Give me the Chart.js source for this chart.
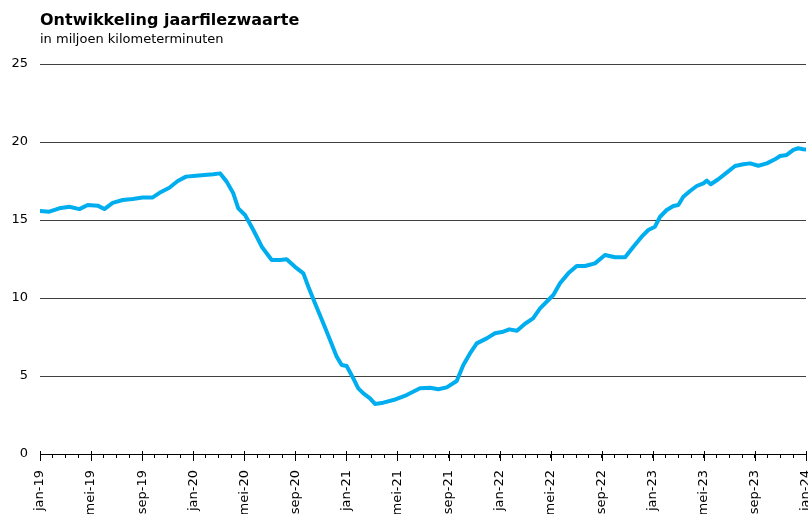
<!DOCTYPE html>
<html>
<head>
<meta charset="utf-8">
<script src="https://cdn.jsdelivr.net/npm/chart.js@4"></script>
<style>
  html, body { margin: 0; padding: 0; background: #fff; }
  #wrap { position: relative; width: 808px; height: 514px; font-family: "DejaVu Sans", Verdana, sans-serif; }
  #title { position: absolute; left: 40px; top: 10px; font-size: 16px; font-weight: bold; color: #000; }
  #subtitle { position: absolute; left: 40px; top: 31px; font-size: 13px; color: #000; }
  canvas { position: absolute; left: 0; top: 0; }
</style>
</head>
<body>
<div id="wrap">
  <canvas id="c" width="808" height="514"></canvas>
  <div id="title">Ontwikkeling jaarfilezwaarte</div>
  <div id="subtitle">in miljoen kilometerminuten</div>
</div>
<script>
// months since jan-19 (fractional)
const monthPos = [
  0, 0.73, 1.51, 2.30, 3.08, 3.74, 4.52, 5.04, 5.69, 6.48, 7.26, 8.04, 8.83, 9.48,
  10.13, 10.79, 11.44, 12.22, 12.87, 13.58, 14.10, 14.62, 15.14, 15.53, 16.06, 16.71,
  17.37, 18.15, 18.80, 19.32, 19.97, 20.63, 21.02, 21.54, 22.19, 22.72, 23.24, 23.63,
  24.02, 24.54, 24.93, 25.33, 25.85, 26.24, 26.89, 27.68, 28.72, 29.77, 30.55, 31.20,
  31.86, 32.64, 33.16, 33.68, 34.21, 34.99, 35.64, 36.29, 36.76, 37.36, 37.99, 38.62,
  39.17, 39.82, 40.21, 40.73, 41.38, 42.04, 42.69, 43.47, 44.26, 45.04, 45.83, 46.48,
  47.13, 47.65, 48.17, 48.57, 49.09, 49.61, 50.00, 50.39, 50.92, 51.44, 51.96, 52.23,
  52.54, 53.13, 53.79, 54.44, 55.09, 55.62, 56.27, 56.93, 57.57, 57.97, 58.49, 59.01,
  59.40, 59.79, 60
];
// jaarfilezwaarte, miljoen kilometerminuten
const filezwaarte = [
  15.58, 15.53, 15.75, 15.85, 15.70, 15.96, 15.92, 15.70, 16.10, 16.28, 16.35, 16.44, 16.45, 16.80,
  17.07, 17.50, 17.78, 17.84, 17.88, 17.93, 17.99, 17.46, 16.71, 15.75, 15.32, 14.36,
  13.29, 12.44, 12.44, 12.48, 12.00, 11.58, 10.72, 9.66, 8.38, 7.31, 6.24, 5.71,
  5.64, 4.85, 4.21, 3.89, 3.57, 3.21, 3.29, 3.46, 3.78, 4.21, 4.25, 4.15,
  4.27, 4.68, 5.71, 6.45, 7.09, 7.41, 7.74, 7.84, 7.99, 7.90, 8.35, 8.70,
  9.34, 9.87, 10.19, 10.94, 11.58, 12.05, 12.05, 12.22, 12.76, 12.61, 12.61, 13.29,
  13.93, 14.36, 14.57, 15.21, 15.64, 15.90, 15.96, 16.49, 16.86, 17.18, 17.35, 17.52,
  17.29, 17.61, 18.04, 18.46, 18.57, 18.63, 18.48, 18.63, 18.89, 19.10, 19.17, 19.49,
  19.60, 19.54, 19.52
];
const monthNames = ['jan','feb','mrt','apr','mei','jun','jul','aug','sep','okt','nov','dec'];
const labelEvery = 4;
const startYear = 19;
const yTicks = [0, 5, 10, 15, 20, 25];

const points = monthPos.map((m, i) => ({ x: m, y: filezwaarte[i] }));

const majorTicks = {
  id: 'majorTicks',
  afterDraw(chart) {
    const xs = chart.scales.x;
    const ctx = chart.ctx;
    ctx.save();
    ctx.strokeStyle = '#000';
    ctx.lineWidth = 1;
    for (let m = xs.min; m <= xs.max; m++) {
      if (m % labelEvery !== 0) continue;
      const px = Math.round(xs.getPixelForValue(m)) + 0.5;
      ctx.beginPath();
      ctx.moveTo(px, xs.top - 3);
      ctx.lineTo(px, xs.top + 7);
      ctx.stroke();
    }
    ctx.restore();
  }
};

new Chart(document.getElementById('c'), {
  type: 'line',
  data: {
    datasets: [{
      data: points,
      borderColor: '#00aeef',
      borderWidth: 4,
      pointRadius: 0,
      tension: 0,
      borderJoinStyle: 'round',
      borderCapStyle: 'round'
    }]
  },
  options: {
    responsive: false,
    animation: false,
    layout: { padding: { top: 64, right: 2, left: 0, bottom: 0 } },
    plugins: { legend: { display: false }, tooltip: { enabled: false } },
    scales: {
      x: {
        type: 'linear',
        min: 0,
        max: 60,
        afterFit(s) { s.height = 60; s.paddingRight = 0; s.paddingLeft = 0; },
        afterBuildTicks(s) { s.ticks = s.ticks.filter(t => Number.isInteger(t.value)); },
        border: { display: true, color: '#000', width: 1 },
        grid: { drawOnChartArea: false, drawTicks: true, tickLength: 4, color: '#000' },
        ticks: {
          stepSize: 1,
          autoSkip: false,
          minRotation: 90,
          maxRotation: 90,
          padding: 12,
          color: '#000',
          font: { family: 'DejaVu Sans', size: 13 },
          callback(v) {
            if (v % labelEvery !== 0) return '';
            const y = startYear + Math.floor(v / 12);
            return monthNames[v % 12] + '-' + y;
          }
        }
      },
      y: {
        min: 0,
        max: 25,
        afterFit(s) { s.width = 40; },
        afterBuildTicks(s) { s.ticks = yTicks.map(v => ({ value: v })); },
        border: { display: false },
        grid: { drawTicks: false, color: '#404040', lineWidth: 1 },
        ticks: {
          padding: 12,
          color: '#000',
          font: { family: 'DejaVu Sans', size: 13 }
        }
      }
    }
  },
  plugins: [majorTicks]
});
</script>
</body>
</html>
